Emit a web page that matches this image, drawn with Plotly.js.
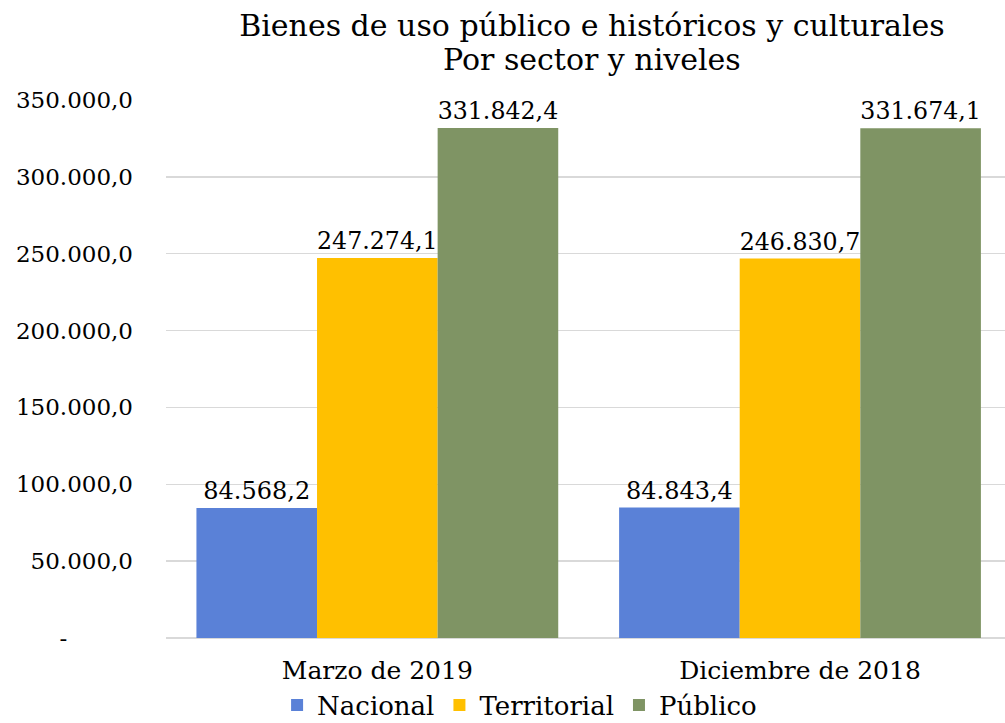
<!DOCTYPE html>
<html>
<head>
<meta charset="utf-8">
<script src="https://cdn.plot.ly/plotly-3.0.1.min.js"></script>
<style>
  html, body { margin: 0; padding: 0; background: #ffffff; }
  #chart { width: 1005px; height: 723px; }
</style>
</head>
<body>
<div id="chart"></div>
<script>
const categories = ["Marzo de 2019", "Diciembre de 2018"];
const nacional = [84568.2, 84843.4];
const territorial = [247274.1, 246830.7];
const publico = [331842.4, 331674.1];
const seriesNames = ["Nacional", "Territorial", "Público"];
const tickValues = [0, 50000, 100000, 150000, 200000, 250000, 300000, 350000];
const tickLabels = ["-\u00a0\u00a0\u00a0\u00a0\u00a0\u00a0\u00a0\u00a0\u00a0", "50.000,0", "100.000,0", "150.000,0", "200.000,0", "250.000,0", "300.000,0", "350.000,0"];
const titleLine1 = "Bienes de uso público e históricos y culturales";
const titleLine2 = "Por sector y niveles";

const FONT = "DejaVu Serif, Liberation Serif, serif";
const colors = ["#5a81d7", "#ffc000", "#7f9464"];
const series = [nacional, territorial, publico];

const traces = series.map((vals, i) => ({
  type: "bar",
  name: seriesNames[i],
  x: categories,
  y: vals,
  marker: { color: colors[i], line: { width: 0 } },
  texttemplate: "%{y:,.1f}",
  textposition: "outside",
  cliponaxis: false,
  textfont: { family: FONT, size: 24, color: "#000000" },
  hoverinfo: "skip"
}));

const layout = {
  width: 1005,
  height: 723,
  separators: ",.",
  paper_bgcolor: "#ffffff",
  plot_bgcolor: "#ffffff",
  margin: { l: 166, r: 0, t: 100, b: 85, pad: 0 },
  barmode: "group",
  bargap: 0.144,
  bargroupgap: 0,
  title: {
    text: titleLine1,
    font: { family: FONT, size: 30, color: "#000000" },
    x: 0.589,
    xref: "container",
    xanchor: "center",
    y: 1 - 25 / 723,
    yanchor: "middle",
    yref: "container"
  },
  annotations: [{
    text: titleLine2,
    xref: "paper",
    yref: "paper",
    x: 0.508,
    y: (638 - 60) / 538,
    xanchor: "center",
    yanchor: "middle",
    showarrow: false,
    font: { family: FONT, size: 30, color: "#000000" }
  }],
  xaxis: {
    range: [-0.5, 1.485],
    showgrid: false,
    zeroline: false,
    showline: false,
    ticks: "",
    tickfont: { family: FONT, size: 25, color: "#000000" },
    ticklabelstandoff: 15
  },
  yaxis: {
    range: [0, 350000],
    tickvals: tickValues,
    ticktext: tickLabels,
    showgrid: true,
    gridcolor: "#d9d9d9",
    gridwidth: 1.5,
    zeroline: true,
    zerolinecolor: "#d9d9d9",
    zerolinewidth: 1.5,
    showline: false,
    ticks: "",
    ticklabelstandoff: 32,
    tickfont: { family: FONT, size: 23, color: "#000000" }
  },
  showlegend: true,
  legend: {
    orientation: "h",
    xref: "container",
    yref: "container",
    x: 0.517,
    xanchor: "center",
    y: 1 - 705 / 723,
    yanchor: "middle",
    bgcolor: "rgba(0,0,0,0)",
    font: { family: FONT, size: 26, color: "#000000" },
    itemwidth: 30,
    tracegroupgap: 0
  }
};

Plotly.newPlot("chart", traces, layout, { staticPlot: true, displayModeBar: false });
</script>
</body>
</html>
